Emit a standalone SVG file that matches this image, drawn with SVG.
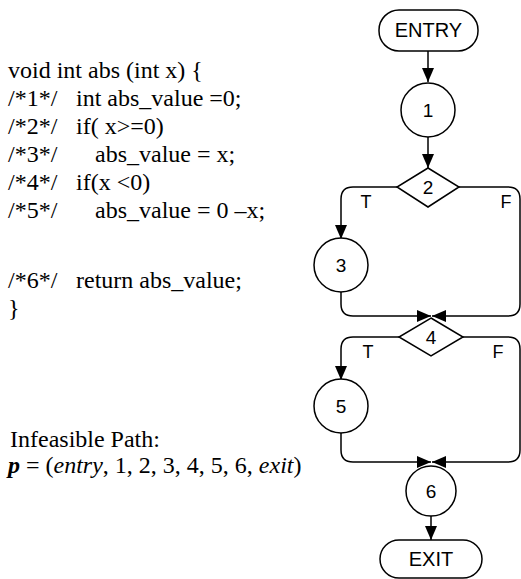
<svg xmlns="http://www.w3.org/2000/svg" width="521" height="579" viewBox="0 0 521 579">
<style>
.code{font-family:"Liberation Serif","Times New Roman",serif;font-size:24px;fill:#000}
.lbl{font-family:"Liberation Sans",Arial,sans-serif;fill:#000;text-anchor:middle}
.node{fill:#fff;stroke:#000;stroke-width:1.5}
.edge{fill:none;stroke:#000;stroke-width:1.5}
.num{font-size:19px}
.term{font-size:20px}
.tf{font-size:18px}
</style>
<defs>
<marker id="arr" markerUnits="userSpaceOnUse" markerWidth="14" markerHeight="12" refX="14" refY="6" orient="auto">
<path d="M0,0 L14,6 L0,12 z" fill="#000"/>
</marker>
</defs>
<rect width="521" height="579" fill="#fff"/>
<g id="code">
<text class="code" x="8" y="78">void int abs (int x) {</text>
<text class="code" x="8" y="106">/*1*/</text><text class="code" x="76" y="106">int abs_value =0;</text>
<text class="code" x="8" y="134">/*2*/</text><text class="code" x="76" y="134">if( x&gt;=0)</text>
<text class="code" x="8" y="162">/*3*/</text><text class="code" x="95" y="162">abs_value = x;</text>
<text class="code" x="8" y="190">/*4*/</text><text class="code" x="76" y="190">if(x &lt;0)</text>
<text class="code" x="8" y="218">/*5*/</text><text class="code" x="95" y="218">abs_value = 0 –x;</text>
<text class="code" x="8" y="288">/*6*/</text><text class="code" x="76" y="288">return abs_value;</text>
<text class="code" x="8" y="316">}</text>
</g>
<g id="path-text">
<text class="code" x="10" y="447">Infeasible Path:</text>
<text class="code" x="8" y="473"><tspan font-style="italic" font-weight="bold">p</tspan> = (<tspan font-style="italic">entry</tspan>, 1, 2, 3, 4, 5, 6, <tspan font-style="italic">exit</tspan>)</text>
</g>
<g id="connectors">
<path class="edge" d="M428,51 V82" marker-end="url(#arr)"/>
<path class="edge" d="M428,137 V168" marker-end="url(#arr)"/>
<path class="edge" d="M397,187 H353 Q341,187 341,199 V239" marker-end="url(#arr)"/>
<path class="edge" d="M459,187 H508 Q520,187 520,199 V304 Q520,316 508,316 H432" marker-end="url(#arr)"/>
<path class="edge" d="M341,292 V304 Q341,316 353,316 H431" marker-end="url(#arr)"/>
<path class="edge" d="M399,337 H353 Q341,337 341,349 V380" marker-end="url(#arr)"/>
<path class="edge" d="M463,337 H508 Q520,337 520,349 V450 Q520,462 508,462 H432" marker-end="url(#arr)"/>
<path class="edge" d="M341,433 V450 Q341,462 353,462 H431" marker-end="url(#arr)"/>
<path class="edge" d="M431,516 V540" marker-end="url(#arr)"/>
<text class="lbl tf" x="366" y="208">T</text>
<text class="lbl tf" x="506" y="208">F</text>
<text class="lbl tf" x="368" y="358">T</text>
<text class="lbl tf" x="498" y="358">F</text>
</g>
<g id="entry">
<rect class="node" x="379" y="10" width="99" height="41" rx="20"/>
<text class="lbl term" x="428.5" y="37">ENTRY</text>
</g>
<g id="n1">
<circle class="node" cx="428" cy="110" r="27"/>
<text class="lbl num" x="428" y="117">1</text>
</g>
<g id="n2">
<polygon class="node" points="428,168 459,187 428,207 397,187"/>
<text class="lbl num" x="428" y="194">2</text>
</g>
<g id="n3">
<circle class="node" cx="341" cy="265" r="27"/>
<text class="lbl num" x="341" y="272">3</text>
</g>
<g id="n4">
<polygon class="node" points="431,318 463,337 431,356 399,337"/>
<text class="lbl num" x="431" y="344">4</text>
</g>
<g id="n5">
<circle class="node" cx="341" cy="406" r="27"/>
<text class="lbl num" x="341" y="413">5</text>
</g>
<g id="n6">
<circle class="node" cx="431" cy="491" r="25"/>
<text class="lbl num" x="431" y="498">6</text>
</g>
<g id="exit">
<rect class="node" x="380" y="540" width="102" height="38" rx="19"/>
<text class="lbl term" x="431" y="566">EXIT</text>
</g>
</svg>
